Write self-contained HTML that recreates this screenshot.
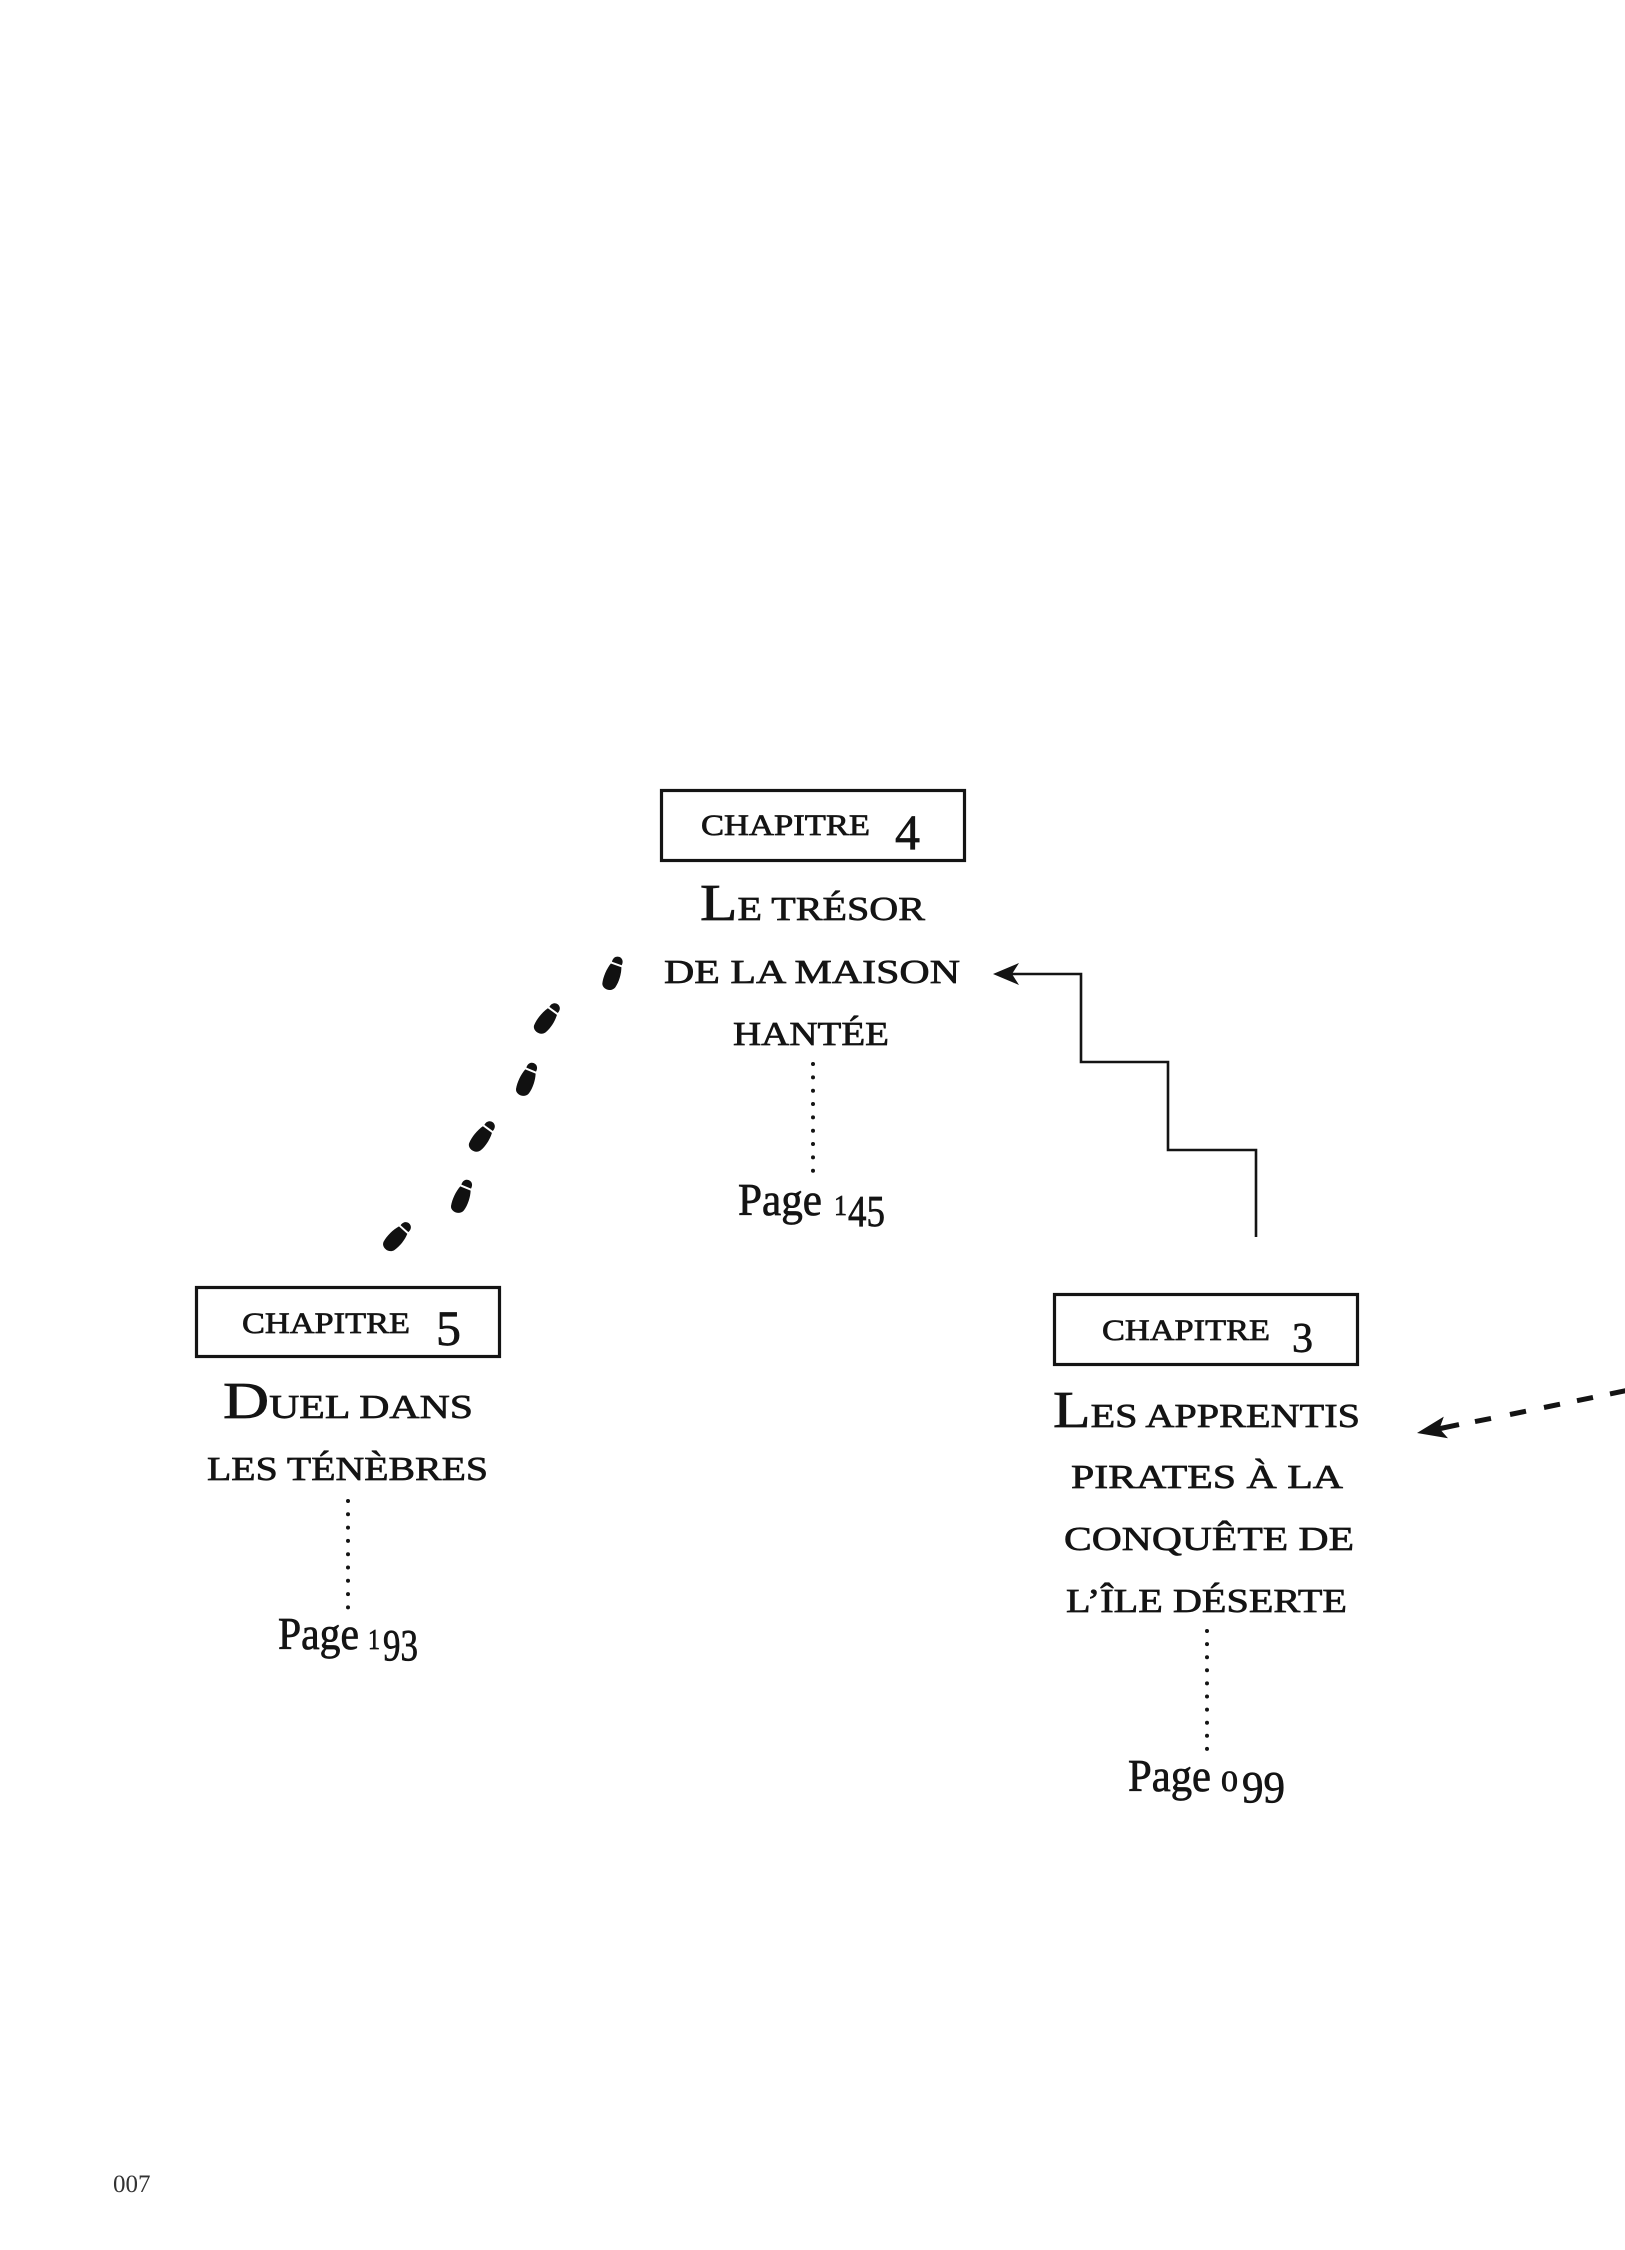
<!DOCTYPE html>
<html>
<head>
<meta charset="utf-8">
<style>
  html, body { margin: 0; padding: 0; background: #ffffff; }
  body { width: 1625px; height: 2250px; overflow: hidden; }
  svg { display: block; }
  text { font-family: "Liberation Serif", "DejaVu Serif", serif; fill: #141414; stroke: #141414; stroke-width: 0.7px; }
  text.folio { fill: #333; stroke: none; }
</style>
</head>
<body>
<svg width="1625" height="2250" viewBox="0 0 1625 2250" xmlns="http://www.w3.org/2000/svg">
  <defs>
    <g id="foot">
      <path d="M -5.2,-11.2 C -5.8,-16.2 -2.6,-18.2 0,-18.2 C 2.6,-18.2 5.8,-16.2 5.2,-11.2 Z" fill="#111"/>
      <path d="M -5.6,-9.2 L 5.6,-9.2 C 7.8,-3 8.4,5 6.8,11.5 C 5,18 -5,18.4 -6.8,12.5 C -8.4,6 -7.8,-3 -5.6,-9.2 Z" fill="#111"/>
    </g>
  </defs>

  <!-- ===== CHAPITRE 4 ===== -->
  <rect x="661.5" y="790.5" width="303" height="70" fill="none" stroke="#141414" stroke-width="3.2"/>
  <text x="701" y="835" font-size="30" textLength="169" lengthAdjust="spacingAndGlyphs">CHAPITRE</text>
  <text x="895" y="849" font-size="50">4</text>

  <text x="700" y="920" textLength="225" lengthAdjust="spacingAndGlyphs"><tspan font-size="52">L</tspan><tspan font-size="34">E TRÉSOR</tspan></text>
  <text x="664" y="983" font-size="34" textLength="296" lengthAdjust="spacingAndGlyphs">DE LA MAISON</text>
  <text x="733" y="1045" font-size="34" textLength="156" lengthAdjust="spacingAndGlyphs">HANTÉE</text>

  <g fill="#141414">
    <circle cx="813" cy="1064" r="2"/>
    <circle cx="813" cy="1077.4" r="2"/>
    <circle cx="813" cy="1090.7" r="2"/>
    <circle cx="813" cy="1104" r="2"/>
    <circle cx="813" cy="1117.4" r="2"/>
    <circle cx="813" cy="1130.7" r="2"/>
    <circle cx="813" cy="1144" r="2"/>
    <circle cx="813" cy="1157.4" r="2"/>
    <circle cx="813" cy="1170.8" r="2"/>
  </g>

  <text x="738" y="1215" font-size="45" textLength="84" lengthAdjust="spacingAndGlyphs">Page</text>
  <text x="834" y="1215" font-size="28" textLength="13" lengthAdjust="spacingAndGlyphs">1</text>
  <text x="848" y="1226" font-size="44" textLength="37" lengthAdjust="spacingAndGlyphs">45</text>

  <!-- ===== CHAPITRE 5 ===== -->
  <rect x="196.5" y="1287.5" width="303" height="69" fill="none" stroke="#141414" stroke-width="3.2"/>
  <text x="242" y="1333" font-size="30" textLength="168" lengthAdjust="spacingAndGlyphs">CHAPITRE</text>
  <text x="436" y="1345" font-size="50">5</text>

  <text x="223" y="1418" textLength="250" lengthAdjust="spacingAndGlyphs"><tspan font-size="52">D</tspan><tspan font-size="34">UEL DANS</tspan></text>
  <text x="207" y="1480" font-size="34" textLength="281" lengthAdjust="spacingAndGlyphs">LES TÉNÈBRES</text>

  <g fill="#141414">
    <circle cx="348" cy="1501" r="2"/>
    <circle cx="348" cy="1514.3" r="2"/>
    <circle cx="348" cy="1527.6" r="2"/>
    <circle cx="348" cy="1540.9" r="2"/>
    <circle cx="348" cy="1554.2" r="2"/>
    <circle cx="348" cy="1567.5" r="2"/>
    <circle cx="348" cy="1580.8" r="2"/>
    <circle cx="348" cy="1594.1" r="2"/>
    <circle cx="348" cy="1607.4" r="2"/>
  </g>

  <text x="278" y="1649" font-size="45" textLength="81" lengthAdjust="spacingAndGlyphs">Page</text>
  <text x="368" y="1649" font-size="28" textLength="12" lengthAdjust="spacingAndGlyphs">1</text>
  <text x="383" y="1660" font-size="44" textLength="35" lengthAdjust="spacingAndGlyphs">93</text>

  <!-- ===== CHAPITRE 3 ===== -->
  <rect x="1054.5" y="1294.5" width="303" height="70" fill="none" stroke="#141414" stroke-width="3.2"/>
  <text x="1102" y="1340" font-size="30" textLength="168" lengthAdjust="spacingAndGlyphs">CHAPITRE</text>
  <text x="1292" y="1352" font-size="42">3</text>

  <text x="1053" y="1427" textLength="307" lengthAdjust="spacingAndGlyphs"><tspan font-size="52">L</tspan><tspan font-size="34">ES APPRENTIS</tspan></text>
  <text x="1071" y="1488" font-size="34" textLength="272" lengthAdjust="spacingAndGlyphs">PIRATES À LA</text>
  <text x="1064" y="1550" font-size="34" textLength="290" lengthAdjust="spacingAndGlyphs">CONQUÊTE DE</text>
  <text x="1066" y="1612" font-size="34" textLength="281" lengthAdjust="spacingAndGlyphs">L’ÎLE DÉSERTE</text>

  <g fill="#141414">
    <circle cx="1207" cy="1631" r="2"/>
    <circle cx="1207" cy="1644.1" r="2"/>
    <circle cx="1207" cy="1657.2" r="2"/>
    <circle cx="1207" cy="1670.3" r="2"/>
    <circle cx="1207" cy="1683.4" r="2"/>
    <circle cx="1207" cy="1696.5" r="2"/>
    <circle cx="1207" cy="1709.6" r="2"/>
    <circle cx="1207" cy="1722.7" r="2"/>
    <circle cx="1207" cy="1735.8" r="2"/>
    <circle cx="1207" cy="1748.9" r="2"/>
  </g>

  <text x="1128" y="1791" font-size="45" textLength="83" lengthAdjust="spacingAndGlyphs">Page</text>
  <text x="1221" y="1791" font-size="30" textLength="17" lengthAdjust="spacingAndGlyphs">0</text>
  <text x="1242" y="1802" font-size="44" textLength="43" lengthAdjust="spacingAndGlyphs">99</text>

  <!-- ===== Stepped arrow (3 -> 4) ===== -->
  <path d="M 1256 1237 V 1150 H 1168 V 1062 H 1081 V 974 H 1012" fill="none" stroke="#141414" stroke-width="2.6"/>
  <polygon points="993,974 1019,963 1012,974 1019,985" fill="#141414"/>

  <!-- ===== Dashed arrow (into 3) ===== -->
  <g stroke="#141414" stroke-width="5" stroke-linecap="butt">
    <line x1="1475" y1="1421.6" x2="1491" y2="1418.4"/>
    <line x1="1510" y1="1414.5" x2="1526" y2="1411.2"/>
    <line x1="1544" y1="1407.5" x2="1560" y2="1404.2"/>
    <line x1="1577" y1="1400.7" x2="1593" y2="1397.4"/>
    <line x1="1610" y1="1393.9" x2="1626" y2="1390.6"/>
    <line x1="1438" y1="1429" x2="1459" y2="1424.6"/>
  </g>
  <polygon points="1417,1433 1443.8,1416.6 1439.5,1428.6 1448,1438.2" fill="#141414"/>

  <!-- ===== Footprints (4 -> 5) ===== -->
  <use href="#foot" transform="translate(613,974) rotate(20)"/>
  <use href="#foot" transform="translate(547,1019) rotate(36)"/>
  <use href="#foot" transform="translate(527,1080) rotate(22)"/>
  <use href="#foot" transform="translate(482,1137) rotate(36)"/>
  <use href="#foot" transform="translate(462,1197) rotate(22)"/>
  <use href="#foot" transform="translate(397,1237) rotate(42)"/>

  <!-- ===== Folio ===== -->
  <text class="folio" x="113" y="2192" font-size="25">007</text>
</svg>
</body>
</html>
